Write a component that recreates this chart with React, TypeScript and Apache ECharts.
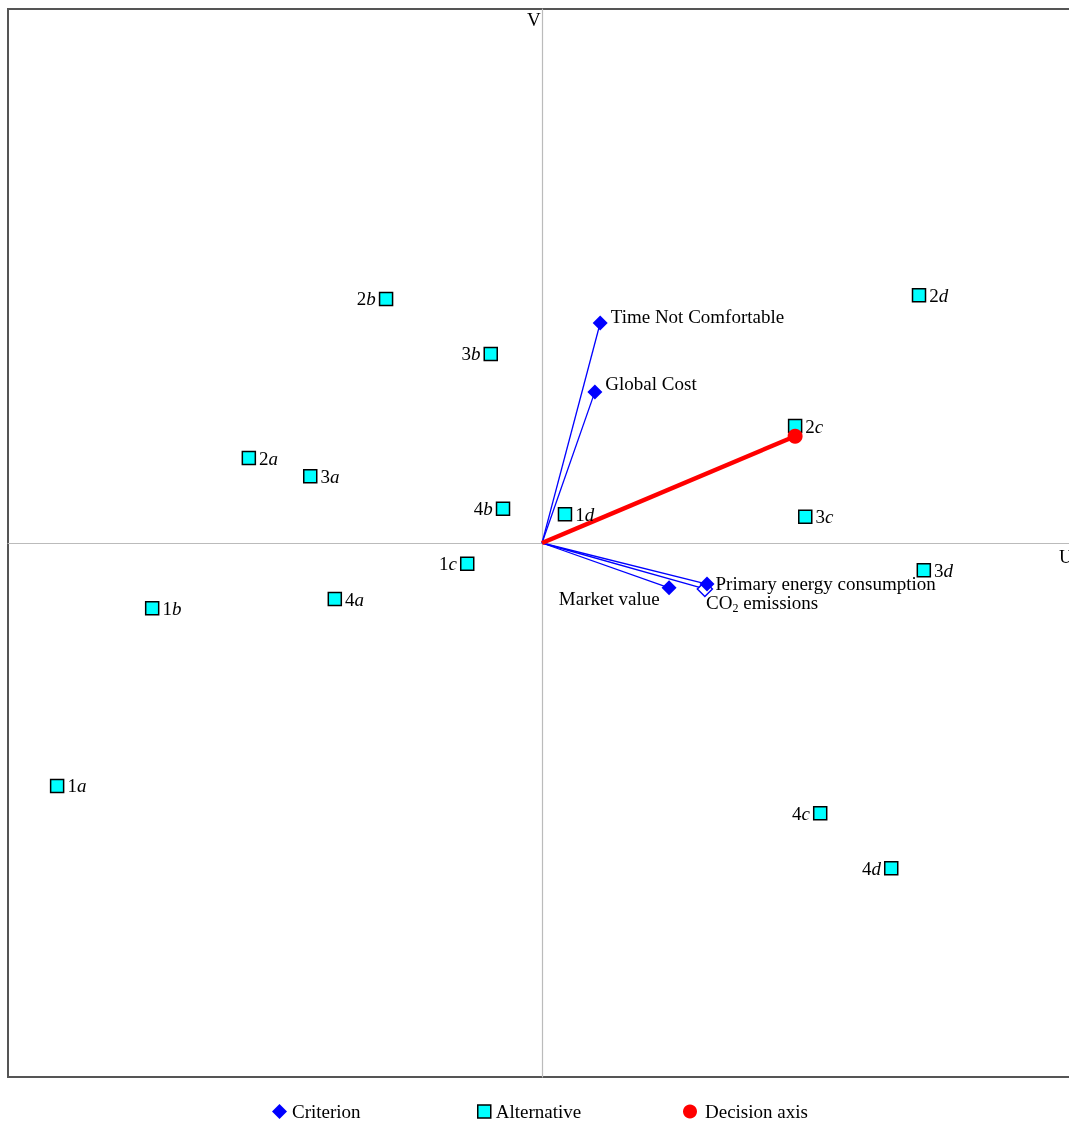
import React, { useEffect, useRef } from "react";
import * as echarts from "echarts";

// Alternatives (U, V coordinates in the GAIA plane)
const altNames = ["1a", "1b", "1c", "1d", "2a", "2b", "2c", "2d", "3a", "3b", "3c", "3d", "4a", "4b", "4c", "4d"];
const altU = [-0.908, -0.730, -0.140, 0.043, -0.549, -0.292, 0.474, 0.706, -0.434, -0.096, 0.493, 0.715, -0.388, -0.073, 0.521, 0.654];
const altV = [-0.455, -0.122, -0.039, 0.054, 0.159, 0.457, 0.219, 0.464, 0.125, 0.354, 0.049, -0.051, -0.105, 0.064, -0.506, -0.609];
const altLeftLabels = ["1c", "2b", "3b", "4b", "4c", "4d"];

// Criteria
const critNames = ["Time Not Comfortable", "Global Cost", "CO2 emissions", "Primary energy consumption", "Market value"];
const critU = [0.109, 0.099, 0.305, 0.309, 0.238];
const critV = [0.412, 0.283, -0.086, -0.077, -0.084];

// Decision axis
const decisionU = 0.474;
const decisionV = 0.200;

const FONT = "'Liberation Serif', 'Times New Roman', serif";

export default function App() {
  const ref = useRef<HTMLDivElement>(null);
  useEffect(() => {
    if (!ref.current) return;
    const chart = echarts.init(ref.current, undefined, { renderer: "svg" });

    const altData = altNames.map((n, i) => ({
      name: n,
      value: [altU[i], altV[i]],
      label: { position: altLeftLabels.includes(n) ? "left" : "right" },
    }));

    const critLabelCfg: Record<string, any> = {
      "Time Not Comfortable": { position: "right", distance: 3, offset: [0, -6] },
      "Global Cost": { position: "right", distance: 3, offset: [0, -8] },
      "Primary energy consumption": { position: "right", distance: 1, offset: [0, -1] },
      "CO2 emissions": { position: "right", distance: 0, offset: [-7, 14], formatter: "CO{sub|2} emissions" },
      "Market value": { position: "left", distance: 2, offset: [0, 11] },
    };

    const critData = critNames.map((n, i) => {
      const d: any = {
        name: n,
        value: [critU[i], critV[i]],
        label: critLabelCfg[n],
      };
      if (n === "CO2 emissions") {
        d.itemStyle = { color: "#ffffff", borderColor: "#0000ff", borderWidth: 1.5, opacity: 1 };
      }
      return d;
    });

    const labelText = {
      color: "#000",
      fontFamily: FONT,
      fontSize: 19,
    };

    chart.setOption({
      animation: false,
      grid: {
        left: 8,
        top: 9,
        width: 1068,
        height: 1068,
        show: true,
        borderColor: "#555",
        borderWidth: 2,
        backgroundColor: "transparent",
      },
      xAxis: {
        type: "value",
        min: -1,
        max: 1,
        axisLine: { show: true, onZero: true, lineStyle: { color: "#bbbbbb", width: 1.2 } },
        axisTick: { show: false },
        axisLabel: { show: false },
        splitLine: { show: false },
      },
      yAxis: {
        type: "value",
        min: -1,
        max: 1,
        axisLine: { show: true, onZero: true, lineStyle: { color: "#bbbbbb", width: 1.2 } },
        axisTick: { show: false },
        axisLabel: { show: false },
        splitLine: { show: false },
      },
      graphic: [
        { type: "text", left: 527, top: 10, style: { text: "V", font: `19px ${FONT}`, fill: "#000" } },
        { type: "text", left: 1059, top: 547, style: { text: "U", font: `19px ${FONT}`, fill: "#000" } },
      ],
      legend: [
        {
          left: 272,
          top: 1102,
          padding: 0,
          data: [{ name: "Criterion", icon: "diamond", itemStyle: { color: "#0000ff", opacity: 1 } }],
          itemWidth: 15,
          itemHeight: 15,
          textStyle: { ...labelText },
          selectedMode: false,
        },
        {
          left: 477,
          top: 1102,
          padding: 0,
          data: [{ name: "Alternative", icon: "rect", itemStyle: { color: "#00ffff", borderColor: "#000", borderWidth: 1.5, opacity: 1 } }],
          itemWidth: 13,
          itemHeight: 13,
          textStyle: { ...labelText },
          selectedMode: false,
        },
        {
          left: 683,
          top: 1102,
          padding: 0,
          data: [{ name: "Decision axis", icon: "circle", itemStyle: { color: "#ff0000", opacity: 1 } }],
          itemWidth: 14,
          itemHeight: 14,
          textStyle: { ...labelText, padding: [0, 0, 0, 3] },
          selectedMode: false,
        },
      ],
      series: [
        {
          name: "criterionLines",
          type: "lines",
          coordinateSystem: "cartesian2d",
          z: 2,
          silent: true,
          lineStyle: { color: "#0000ff", width: 1.3, opacity: 1 },
          data: critNames.map((n, i) => ({ coords: [[0, 0], [critU[i], critV[i]]] })),
        },
        {
          name: "decisionLine",
          type: "lines",
          coordinateSystem: "cartesian2d",
          z: 3,
          silent: true,
          lineStyle: { color: "#ff0000", width: 4.5, opacity: 1 },
          data: [{ coords: [[0, 0], [decisionU, decisionV]] }],
        },
        {
          name: "Alternative",
          type: "scatter",
          symbol: "rect",
          symbolSize: 13,
          z: 4,
          itemStyle: { color: "#00ffff", borderColor: "#000", borderWidth: 1.5, opacity: 1 },
          label: {
            show: true,
            distance: 3,
            formatter: (p: any) => `{n|${p.name.charAt(0)}}{i|${p.name.slice(1)}}`,
            rich: {
              n: { ...labelText },
              i: { ...labelText, fontStyle: "italic" },
            },
          },
          data: altData,
        },
        {
          name: "Decision axis",
          type: "scatter",
          symbol: "circle",
          symbolSize: 15,
          z: 5,
          itemStyle: { color: "#ff0000", opacity: 1 },
          data: [[decisionU, decisionV]],
        },
        {
          name: "Criterion",
          type: "scatter",
          symbol: "diamond",
          symbolSize: 15,
          z: 6,
          itemStyle: { color: "#0000ff", opacity: 1 },
          label: {
            show: true,
            ...labelText,
            formatter: "{b}",
            rich: {
              sub: { ...labelText, fontSize: 12, verticalAlign: "bottom", padding: [10, 0, 0, 0] },
            },
          },
          data: critData,
        },
      ],
    });
    return () => chart.dispose();
  }, []);

  return (
    <div style={{ position: "fixed", left: 0, top: 0, width: 1069, height: 1122, overflow: "hidden" }}>
      <div ref={ref} style={{ width: 1080, height: 1122 }} />
    </div>
  );
}
